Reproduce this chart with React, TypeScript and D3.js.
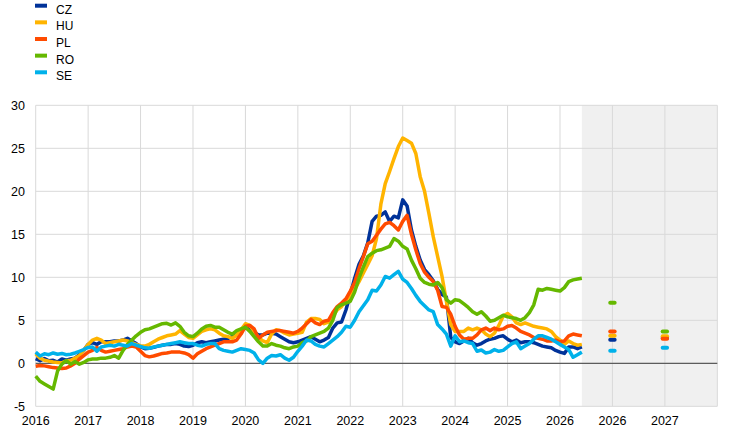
import React from "react";
import { scaleLinear, line as d3line, curveLinear } from "d3";

// monthly values, Jan 2016 onwards
const cz = [
  0.55, 0.3, 0.55, 0.3, 0.35, 0.15, 0.5, 0.35, 0.5, 0.6, 1.0, 1.5,
  2.2, 2.4, 2.2, 2.5, 2.5, 2.5, 2.6, 2.6, 2.7, 2.9, 2.6, 2.3,
  1.9, 1.7, 1.75, 1.85, 2.0, 2.1, 2.2, 2.2, 2.3, 2.2, 2.0, 1.95,
  2.1, 2.4, 2.5, 2.4, 2.5, 2.6, 2.7, 2.8, 2.9, 3.1, 3.3, 3.7,
  4.2, 3.9, 3.6, 3.3, 3.3, 3.5, 3.5, 3.4, 3.1, 2.8, 2.5, 2.4,
  2.5, 2.7, 2.9, 3.1, 2.8, 2.5, 2.7, 3.0, 4.1, 4.7, 4.8, 6.2,
  8.0, 9.9, 11.5, 12.5, 14.0, 16.5, 17.1, 17.2, 17.6, 16.5, 17.1, 16.9,
  19.0, 18.3, 15.5, 13.6, 12.0, 10.9, 10.3, 9.6, 8.6, 8.0, 7.7, 3.0,
  2.5, 2.3, 2.6, 2.9, 2.4, 2.1, 2.3, 2.6, 2.8, 2.9, 3.1, 3.2,
  2.8, 2.5, 2.7, 2.4, 2.5, 2.5, 2.4, 2.2, 2.0, 1.9, 1.8, 1.5,
  1.3, 1.15, 1.9, 1.9, 1.7, 1.9,
];
const hu = [
  1.1, 0.6, 0.35, 0.25, 0.15, 0.1, 0.05, 0.3, 0.35, 0.6, 0.9, 1.5,
  2.2, 2.7, 2.9, 2.7, 2.3, 2.4, 2.5, 2.6, 2.7, 2.6, 2.4, 2.2,
  2.05, 2.0, 2.2, 2.5, 2.8, 3.0, 3.2, 3.3, 3.4, 3.8, 3.4, 3.0,
  2.9, 3.3, 3.7, 3.9, 4.0, 3.9, 3.5, 3.2, 3.1, 2.9, 3.3, 3.9,
  4.6, 4.4, 3.7, 3.0, 2.6, 2.4, 3.4, 3.9, 3.8, 3.5, 3.3, 3.4,
  3.5, 3.6, 4.8, 5.2, 5.2, 5.1, 4.6, 4.8, 5.5, 6.2, 6.6, 7.3,
  7.8, 8.6, 9.5, 10.5, 11.5, 12.5, 14.5, 18.5, 20.9, 22.3, 23.8, 25.2,
  26.2, 25.9, 25.6, 24.4, 21.7, 20.0, 17.4, 14.7, 12.4, 10.1, 7.2, 4.5,
  3.7, 3.7, 3.7, 4.1, 3.9, 4.1, 3.9, 3.4, 3.1, 3.5, 4.4, 5.5,
  5.8, 5.4, 4.7, 4.5, 4.7, 4.5, 4.3, 4.2, 4.1, 4.0, 3.7, 3.1,
  2.7, 2.2, 2.6, 2.3, 2.1, 2.2,
];
const pl = [
  -0.35, -0.25, -0.3, -0.4, -0.5, -0.55, -0.6, -0.55, -0.3, 0.0, 0.5, 0.9,
  1.3, 1.5, 1.85, 1.5, 1.3, 1.4, 1.5, 1.6, 1.7, 1.9, 2.0, 1.9,
  1.4, 0.9, 0.75, 0.85, 1.0, 1.15, 1.2, 1.3, 1.3, 1.3, 1.2, 1.0,
  0.6, 1.1, 1.4, 1.7, 1.9, 2.1, 2.3, 2.5, 2.5, 2.5, 2.7, 3.4,
  4.3, 4.4, 4.0, 2.9, 3.3, 3.6, 3.7, 3.8, 3.8, 3.7, 3.6, 3.5,
  3.7, 4.1, 4.6, 5.1, 4.7, 4.5, 4.9, 5.0, 5.9, 6.6, 7.0, 7.5,
  8.4, 9.4, 11.0, 12.4, 13.9, 14.2, 14.9, 15.6, 16.2, 16.4, 16.0, 15.5,
  16.5, 17.2, 15.0, 13.2, 11.6, 10.6, 10.0, 9.5, 8.5, 6.6, 6.5, 5.7,
  4.3, 3.3, 2.8, 2.9, 2.9, 3.3, 3.9, 4.1, 3.8, 4.1, 3.9, 4.0,
  4.3, 4.4, 4.1, 3.7, 3.5, 3.3, 3.0, 2.9, 2.8, 2.6, 2.6, 2.7,
  2.5, 2.6, 3.2, 3.4, 3.3, 3.2,
];
const ro = [
  -1.5, -2.1, -2.4, -2.7, -3.0, -0.9, -0.1, 0.3, -0.1, 0.2, -0.1, 0.1,
  0.4, 0.5, 0.5, 0.6, 0.6, 0.7, 0.9, 0.6, 1.5, 2.2, 2.7, 3.2,
  3.6, 3.9, 4.0, 4.2, 4.4, 4.6, 4.65, 4.45, 4.7, 4.3, 3.6, 3.2,
  3.1, 3.5, 4.0, 4.3, 4.4, 4.2, 4.2, 3.9, 3.6, 3.4, 3.8, 4.0,
  4.2, 3.7, 3.1, 2.5, 2.0, 2.0, 2.3, 2.1, 2.0, 1.8, 1.7, 1.9,
  2.0, 2.4, 2.6, 3.1, 3.3, 3.5, 3.7, 4.1, 5.0, 6.5, 6.8, 7.0,
  7.2, 8.3, 9.9, 11.2, 12.4, 12.8, 13.1, 13.2, 13.4, 13.6, 14.5, 14.2,
  13.6, 13.3, 12.0, 11.0, 9.9, 9.4, 9.2, 9.1, 9.4, 8.8, 7.4, 7.0,
  7.4, 7.3, 6.9, 6.5, 6.0, 5.7, 6.0, 5.5, 4.9, 5.0, 5.3, 5.6,
  5.4, 5.3, 5.2, 5.0, 5.3, 5.9, 6.8, 8.6, 8.5, 8.7, 8.6, 8.5,
  8.4, 8.8, 9.5, 9.7, 9.8, 9.9,
];
const se = [
  1.3, 0.85, 1.1, 1.0, 1.2, 1.05, 1.15, 1.0, 1.05, 1.2, 1.4, 1.6,
  1.85, 1.9, 1.4, 1.9, 2.0, 2.1, 2.0, 2.2, 2.1, 2.0, 2.3, 2.1,
  1.95, 1.8, 1.75, 1.9, 2.0, 2.1, 2.2, 2.3, 2.4, 2.5, 2.4, 2.3,
  2.3, 2.1, 2.0, 2.2, 2.3, 2.3, 1.7, 1.5, 1.4, 1.3, 1.5, 1.7,
  1.6, 1.5, 1.2, 0.4, 0.0, 0.6, 0.9, 0.85, 1.0, 0.6, 0.35, 0.7,
  1.4, 2.0, 2.7, 2.6, 2.2, 2.0, 1.9, 2.3, 2.7, 3.1, 3.6, 4.3,
  4.2, 5.0, 6.0, 6.7, 7.4, 8.5, 8.4, 9.1, 10.1, 9.9, 10.3, 10.7,
  9.8, 9.4, 8.7, 7.9, 7.2, 6.7, 6.2, 6.0, 4.5, 4.0, 3.4, 2.0,
  3.2, 2.5, 2.6, 2.4, 2.3, 1.4, 1.55, 1.2, 1.3, 1.6, 1.4, 1.5,
  1.9, 2.3, 2.5, 1.7, 2.0, 2.3, 2.8, 3.2, 3.2, 3.0, 2.8, 2.5,
  2.2, 1.9, 1.6, 0.7, 1.0, 1.3,
];

// projections (annual)
const projLabels = ["2026", "2027"];
const czProj = [2.75, 2.95];
const huProj = [3.2, 3.15];
const plProj = [3.7, 2.85];
const roProj = [7.05, 3.7];
const seProj = [1.45, 1.8];

const yearLabels = ["2016", "2017", "2018", "2019", "2020", "2021", "2022", "2023", "2024", "2025", "2026"];
const yTicks = [-5, 0, 5, 10, 15, 20, 25, 30];

const countries = ["CZ", "HU", "PL", "RO", "SE"];
const colors = ["#003299", "#ffb400", "#ff4b00", "#65b800", "#00b1ea"];
const seriesList = [cz, hu, pl, ro, se];
const projList = [czProj, huProj, plProj, roProj, seProj];

const W = 744;
const H = 433;
const margin = { left: 35.7, right: 26.7, top: 105.3, bottom: 26.7 };
const font = "Arial, 'Liberation Sans', sans-serif";

export default function App() {
  const totalMonths = (yearLabels.length + projLabels.length) * 12;

  const x = scaleLinear()
    .domain([0, totalMonths])
    .range([margin.left, W - margin.right]);
  const y = scaleLinear()
    .domain([-5, 30])
    .range([H - margin.bottom, margin.top]);

  const line = d3line<number>()
    .x((_, i) => x(i))
    .y((d) => y(d))
    .curve(curveLinear);

  const lastMonth = cz.length - 1;
  const gridMonths = Array.from({ length: yearLabels.length + projLabels.length + 1 }, (_, i) => i * 12);
  const projMonth = (i: number) => (yearLabels.length + i) * 12;

  return (
    <>
      <style>{`body{margin:0}`}</style>
      <svg width={W} height={H} style={{ display: "block", fontFamily: font }}>
        <rect width={W} height={H} fill="#ffffff" />

        {/* projection band */}
        <rect
          x={x(lastMonth)}
          y={y(30)}
          width={x(totalMonths) - x(lastMonth)}
          height={y(-5) - y(30)}
          fill="#f0f0f0"
        />

        {/* grid */}
        {yTicks.map((t) => (
          <line
            key={"h" + t}
            x1={x(0)}
            x2={x(totalMonths)}
            y1={y(t)}
            y2={y(t)}
            stroke="#d9d9d9"
            strokeWidth={1}
          />
        ))}
        {gridMonths.map((m) => (
          <line
            key={"v" + m}
            x1={x(m)}
            x2={x(m)}
            y1={y(30)}
            y2={y(-5)}
            stroke="#d9d9d9"
            strokeWidth={1}
          />
        ))}

        {/* zero line */}
        <line x1={x(0)} x2={x(totalMonths)} y1={y(0)} y2={y(0)} stroke="#3c3c3c" strokeWidth={1} />

        {/* series */}
        {seriesList.map((s, i) => (
          <path
            key={countries[i]}
            d={line(s) ?? undefined}
            fill="none"
            stroke={colors[i]}
            strokeWidth={3.5}
            strokeLinejoin="round"
          />
        ))}

        {/* projection markers */}
        {projList.map((p, i) =>
          p.map((v, j) => (
            <line
              key={countries[i] + j}
              x1={x(projMonth(j)) - 2.2}
              x2={x(projMonth(j)) + 2.2}
              y1={y(v)}
              y2={y(v)}
              stroke={colors[i]}
              strokeWidth={4}
              strokeLinecap="round"
            />
          ))
        )}

        {/* y axis labels */}
        {yTicks.map((t) => (
          <text key={"yl" + t} x={25} y={y(t)} dy="0.35em" textAnchor="end" fontSize={12.5} fill="#000">
            {t}
          </text>
        ))}

        {/* x axis labels */}
        {yearLabels.map((lab, i) => (
          <text key={"xl" + i} x={x(i * 12)} y={425} textAnchor="middle" fontSize={12.5} fill="#000">
            {lab}
          </text>
        ))}
        {projLabels.map((lab, j) => (
          <text key={"pl" + j} x={x(projMonth(j))} y={425} textAnchor="middle" fontSize={12.5} fill="#000">
            {lab}
          </text>
        ))}

        {/* legend */}
        {countries.map((c, i) => (
          <g key={"lg" + c}>
            <rect x={35} y={3.7 + i * 16.65} width={12} height={4} fill={colors[i]} />
            <text x={56} y={13.8 + i * 16.65} fontSize={12} fill="#000">
              {c}
            </text>
          </g>
        ))}
      </svg>
    </>
  );
}
